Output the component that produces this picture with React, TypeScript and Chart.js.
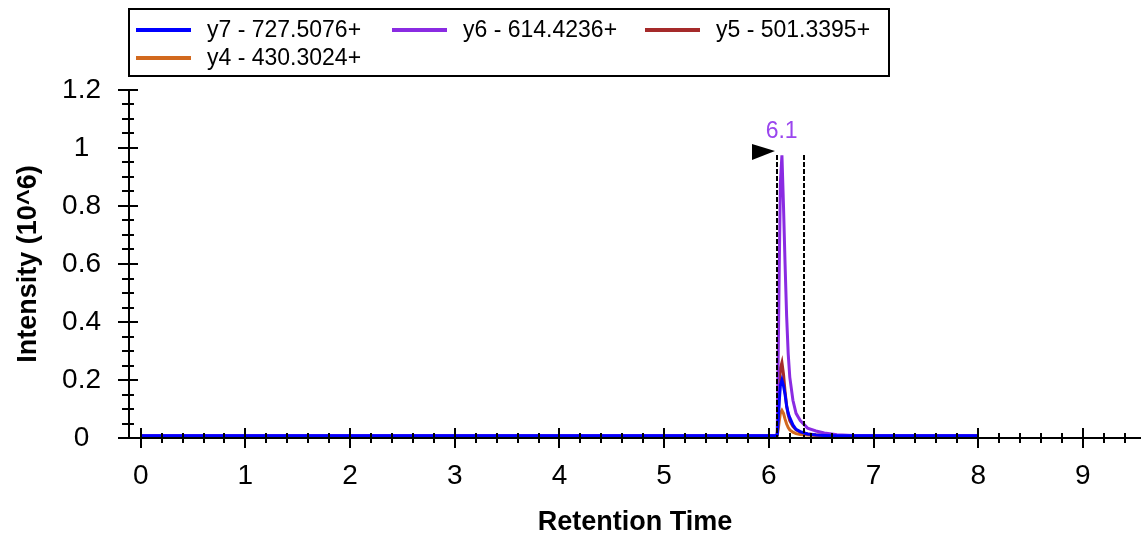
import React, { useEffect, useRef } from 'react';
import { Chart, registerables } from 'chart.js';

Chart.register(...registerables);

// ---- data ----
const retentionTimes = [0, 1, 2, 3, 4, 5, 5.5, 6.0, 6.06, 6.08, 6.09, 6.1, 6.11, 6.125, 6.14, 6.155, 6.17, 6.185, 6.2, 6.23, 6.26, 6.3, 6.37, 6.45, 6.53, 6.65, 6.8, 7, 7.5, 8];

const y7Intensity = [0.008, 0.008, 0.008, 0.008, 0.008, 0.008, 0.008, 0.008, 0.008, 0.01, 0.06, 0.13, 0.18, 0.2, 0.18, 0.15, 0.11, 0.085, 0.07, 0.045, 0.03, 0.022, 0.014, 0.01, 0.009, 0.008, 0.008, 0.008, 0.008, 0.008];
const y6Intensity = [0.009, 0.009, 0.009, 0.009, 0.009, 0.009, 0.009, 0.009, 0.009, 0.012, 0.3, 0.6, 0.88, 0.975, 0.8, 0.6, 0.42, 0.29, 0.21, 0.13, 0.085, 0.06, 0.034, 0.024, 0.017, 0.011, 0.009, 0.009, 0.009, 0.009];
const y5Intensity = [0.008, 0.008, 0.008, 0.008, 0.008, 0.008, 0.008, 0.008, 0.008, 0.01, 0.08, 0.17, 0.24, 0.26, 0.22, 0.16, 0.11, 0.08, 0.06, 0.04, 0.028, 0.02, 0.014, 0.011, 0.009, 0.008, 0.008, 0.008, 0.008, 0.008];
const y4Intensity = [0.008, 0.008, 0.008, 0.008, 0.008, 0.008, 0.008, 0.008, 0.008, 0.009, 0.03, 0.06, 0.085, 0.095, 0.085, 0.065, 0.048, 0.036, 0.028, 0.02, 0.015, 0.012, 0.01, 0.009, 0.008, 0.008, 0.008, 0.008, 0.008, 0.008];

const seriesLabels = ['y7 - 727.5076+', 'y6 - 614.4236+', 'y5 - 501.3395+', 'y4 - 430.3024+'];
const seriesColors = ['#0000ff', '#8a2be2', '#a52a2a', '#d2691e'];
const seriesValues = [y7Intensity, y6Intensity, y5Intensity, y4Intensity];

const xTickValues = [0, 1, 2, 3, 4, 5, 6, 7, 8, 9];
const xTickLabels = ['0', '1', '2', '3', '4', '5', '6', '7', '8', '9'];
const yTickValues = [0, 0.2, 0.4, 0.6, 0.8, 1, 1.2];
const yTickLabels = ['0', '0.2', '0.4', '0.6', '0.8', '1', '1.2'];

const peakStart = 6.074;
const peakEnd = 6.338;
const peakTop = 0.976;
const peakApexTime = 6.122;
const peakLabel = '6.1';

const FONT = "'Liberation Sans', Arial, sans-serif";

const axesPlugin = {
  id: 'customAxes',
  afterDatasetsDraw(chart: any) {
    const { ctx, chartArea, scales } = chart;
    const xs = scales.x;
    const ys = scales.y;
    ctx.save();
    ctx.strokeStyle = '#000';
    ctx.lineWidth = 2;
    ctx.beginPath();
    ctx.moveTo(chartArea.left, chartArea.top);
    ctx.lineTo(chartArea.left, chartArea.bottom);
    ctx.moveTo(chartArea.left, chartArea.bottom);
    ctx.lineTo(chartArea.right, chartArea.bottom);
    ctx.stroke();
    // y ticks
    ctx.beginPath();
    for (let v = 0; v <= 1.2001; v += 0.05) {
      const y = Math.round(ys.getPixelForValue(v));
      const major = Math.abs(v / 0.2 - Math.round(v / 0.2)) < 1e-6;
      ctx.moveTo(chartArea.left - (major ? 11 : 7), y);
      ctx.lineTo(chartArea.left + (major ? 9 : 5), y);
    }
    // x ticks
    for (let v = 0; v <= xs.max + 1e-6; v += 0.2) {
      const x = Math.round(xs.getPixelForValue(v));
      const major = Math.abs(v - Math.round(v)) < 1e-6;
      ctx.moveTo(x, chartArea.bottom - (major ? 10 : 5));
      ctx.lineTo(x, chartArea.bottom + (major ? 10 : 5));
    }
    ctx.stroke();

    // peak boundaries
    const x1 = Math.round(xs.getPixelForValue(peakStart));
    const x2 = Math.round(xs.getPixelForValue(peakEnd));
    const yt = Math.round(ys.getPixelForValue(peakTop));
    const yb = ys.getPixelForValue(0);
    ctx.setLineDash([5, 2]);
    ctx.lineWidth = 2;
    ctx.beginPath();
    ctx.moveTo(x1, yt);
    ctx.lineTo(x1, yb);
    ctx.moveTo(x2, yt);
    ctx.lineTo(x2, yb);
    ctx.stroke();
    ctx.setLineDash([]);
    // triangle marker
    ctx.fillStyle = '#000';
    ctx.beginPath();
    ctx.moveTo(x1 - 25, yt - 11);
    ctx.lineTo(x1 - 25, yt + 5);
    ctx.lineTo(x1 - 2, yt - 4);
    ctx.closePath();
    ctx.fill();
    // label
    ctx.fillStyle = '#9a45ee';
    ctx.font = `23px ${FONT}`;
    ctx.textAlign = 'center';
    ctx.textBaseline = 'middle';
    ctx.fillText(peakLabel, xs.getPixelForValue(peakApexTime), yt - 23);
    ctx.restore();
  },
  afterDraw(chart: any) {
    const { ctx } = chart;
    ctx.save();
    ctx.strokeStyle = '#000';
    ctx.lineWidth = 2;
    ctx.strokeRect(129, 9, 760, 67);
    ctx.font = `23px ${FONT}`;
    ctx.textAlign = 'left';
    ctx.textBaseline = 'middle';
    const cols = [136, 392, 645];
    const rows = [30, 58];
    chart.data.datasets.forEach((ds: any, i: number) => {
      const cx = cols[i % 3];
      const cy = rows[Math.floor(i / 3)];
      ctx.strokeStyle = ds.borderColor;
      ctx.lineWidth = 4;
      ctx.beginPath();
      ctx.moveTo(cx, cy);
      ctx.lineTo(cx + 55, cy);
      ctx.stroke();
      ctx.fillStyle = '#000';
      ctx.fillText(ds.label, cx + 71, cy + 1);
    });
    ctx.restore();
  },
};

export default function App() {
  const ref = useRef<HTMLCanvasElement>(null);
  useEffect(() => {
    const datasets = seriesLabels.map((label, i) => ({
      label,
      data: retentionTimes.map((t, j) => ({ x: t, y: seriesValues[i][j] })),
      borderColor: seriesColors[i],
      backgroundColor: seriesColors[i],
      borderWidth: 3,
      pointRadius: 0,
      tension: 0,
      fill: false,
    }));
    const chart = new Chart(ref.current!, {
      type: 'line',
      data: { datasets },
      plugins: [axesPlugin],
      options: {
        animation: false,
        responsive: false,
        devicePixelRatio: 1,
        layout: { padding: { top: 90, left: 0, right: 0, bottom: 0 } },
        plugins: { legend: { display: false }, tooltip: { enabled: false } },
        scales: {
          x: {
            type: 'linear',
            min: -0.112,
            max: 9.555,
            afterBuildTicks: (s: any) => { s.ticks = xTickValues.map((v) => ({ value: v })); },
            afterFit: (s: any) => { s.height = 95; },
            grid: { display: false, drawTicks: false },
            border: { display: false },
            ticks: {
              autoSkip: false,
              maxRotation: 0,
              padding: 21,
              color: '#000',
              font: { family: FONT, size: 28 },
              callback: (v: any) => xTickLabels[xTickValues.indexOf(Number(v))] ?? '',
            },
            title: {
              display: true,
              text: 'Retention Time',
              color: '#000',
              font: { family: FONT, size: 27, weight: 'bold', lineHeight: 0.8 },
              padding: { top: 0, bottom: 0 },
            },
          },
          y: {
            type: 'linear',
            min: 0,
            max: 1.2,
            afterBuildTicks: (s: any) => { s.ticks = yTickValues.map((v) => ({ value: v })); },
            afterFit: (s: any) => { s.width = 129; },
            grid: { display: false, drawTicks: false },
            border: { display: false },
            ticks: {
              crossAlign: 'center',
              padding: 28,
              color: '#000',
              font: { family: FONT, size: 28 },
              callback: (v: any) => yTickLabels[yTickValues.findIndex((t) => Math.abs(t - Number(v)) < 1e-6)] ?? '',
            },
            title: {
              display: true,
              text: 'Intensity (10^6)',
              color: '#000',
              font: { family: FONT, size: 27, weight: 'bold', lineHeight: 1 },
              padding: { top: 15, bottom: 0 },
            },
          },
        },
      } as any,
    });
    return () => chart.destroy();
  }, []);
  return (
    <div style={{ position: 'absolute', left: 0, top: 0, width: 1141, height: 533 }}>
      <canvas ref={ref} width={1141} height={533} style={{ display: 'block' }} />
    </div>
  );
}
